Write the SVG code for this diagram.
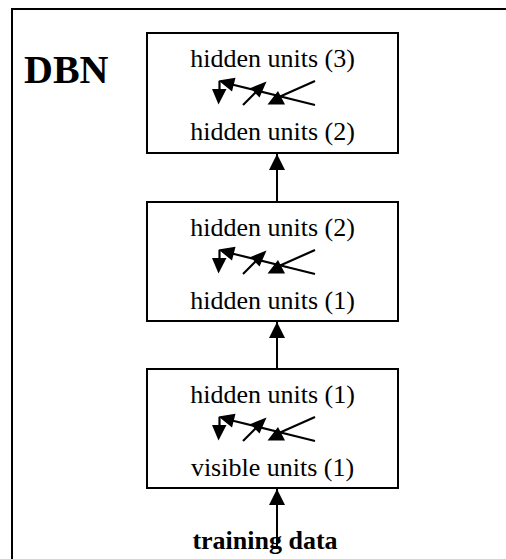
<svg xmlns="http://www.w3.org/2000/svg" xmlns:xlink="http://www.w3.org/1999/xlink" width="506" height="559" viewBox="0 0 506 559">
  <style>
    .box { fill: #ffffff; stroke: #000000; stroke-width: 2; }
    .lbl { font-family: "Liberation Serif", "Times New Roman", serif; font-size: 26px; fill: #000000; text-anchor: middle; }
    .bold { font-family: "Liberation Serif", "Times New Roman", serif; font-weight: bold; fill: #000000; }
    .sym line { stroke: #000000; stroke-width: 2.2; }
    .sym polygon { fill: #000000; }
    .conn { stroke: #000000; stroke-width: 2; fill: none; }
  </style>
  <defs>
    <marker id="arrow" markerUnits="userSpaceOnUse" markerWidth="16" markerHeight="16" viewBox="0 0 16 16" refX="16" refY="8" orient="auto">
      <polygon points="0,0 16,8 0,16" fill="#000000"/>
    </marker>
    <g id="rbm" class="sym">
      <line x1="219.5" y1="81" x2="219.5" y2="92"/>
      <polygon points="212,89 226.5,89 218.5,104.5"/>
      <line x1="315" y1="105" x2="230" y2="84"/>
      <polygon points="218.5,80.5 235.5,77.8 232,91.6"/>
      <line x1="243" y1="105" x2="262" y2="86"/>
      <polygon points="266.5,81.5 250.5,88 259.5,97.5"/>
      <line x1="315" y1="81" x2="279" y2="97"/>
      <polygon points="267.5,104.5 285,104.5 278,91"/>
    </g>
  </defs>
  <rect x="0" y="0" width="506" height="559" fill="#ffffff"/>
  <rect x="12" y="9" width="520" height="620" fill="none" stroke="#000000" stroke-width="2"/>
  <text class="bold" x="24" y="83" font-size="40">DBN</text>

  <g id="connectors">
    <line class="conn" x1="277" y1="202" x2="277" y2="154" marker-end="url(#arrow)"/>
    <line class="conn" x1="277" y1="369" x2="277" y2="322" marker-end="url(#arrow)"/>
    <line class="conn" x1="277" y1="547" x2="277" y2="489" marker-end="url(#arrow)"/>
  </g>

  <g id="rbm3">
    <rect class="box" x="147" y="33" width="251" height="120"/>
    <text class="lbl" x="272.5" y="67">hidden units (3)</text>
    <use xlink:href="#rbm" href="#rbm"/>
    <text class="lbl" x="272.5" y="140">hidden units (2)</text>
  </g>

  <g id="rbm2">
    <rect class="box" x="147" y="202" width="251" height="119"/>
    <text class="lbl" x="272.5" y="236">hidden units (2)</text>
    <use xlink:href="#rbm" href="#rbm" transform="translate(0,169)"/>
    <text class="lbl" x="272.5" y="309">hidden units (1)</text>
  </g>

  <g id="rbm1">
    <rect class="box" x="147" y="369" width="251" height="119"/>
    <text class="lbl" x="272.5" y="403">hidden units (1)</text>
    <use xlink:href="#rbm" href="#rbm" transform="translate(0,336)"/>
    <text class="lbl" x="272.5" y="476">visible units (1)</text>
  </g>

  <g id="training">
    <text class="bold" x="265" y="549" font-size="26" text-anchor="middle">training data</text>
  </g>
</svg>
